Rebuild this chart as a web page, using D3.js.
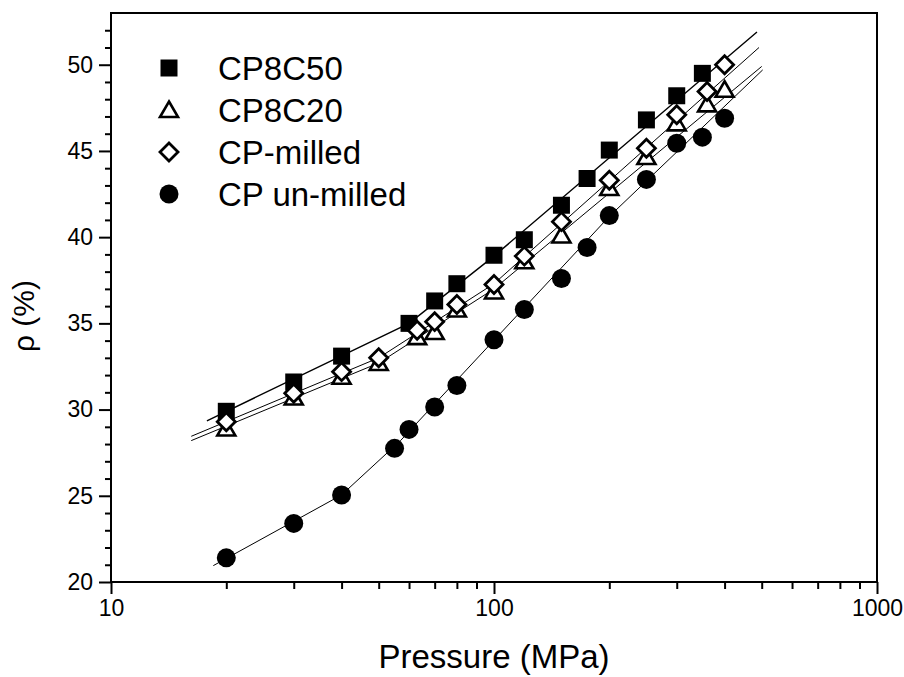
<!DOCTYPE html>
<html>
<head>
<meta charset="utf-8">
<script src="https://cdn.jsdelivr.net/npm/d3@7"></script>
<style>
body{margin:0;background:#fff;}
text{font-family:"Liberation Sans",Arial,sans-serif;fill:#000;}
</style>
</head>
<body>
<div id="container"></div>
<script>
// data (pressure in MPa, relative density in %)
var p50=[20,30,40,60,70,80,100,120,150,175,200,250,300,350];
var rho50=[29.9,31.6,33.1,35.0,36.3,37.3,38.95,39.85,41.85,43.4,45.05,46.8,48.2,49.5];

var p20=[20,30,40,50,63,70,80,100,120,150,200,250,300,360,400];
var rho20=[28.9,30.7,31.9,32.7,34.2,34.5,35.8,36.85,38.6,40.1,42.85,44.65,46.6,47.7,48.55];

var pMilled=[20,30,40,50,63,70,80,100,120,150,200,250,300,360,400];
var rhoMilled=[29.3,30.95,32.2,33.0,34.6,35.1,36.1,37.25,38.9,40.9,43.3,45.15,47.1,48.45,50.0];

var pUn=[20,30,40,55,60,70,80,100,120,150,175,200,250,300,350,400];
var rhoUn=[21.4,23.4,25.05,27.75,28.85,30.15,31.4,34.05,35.8,37.6,39.4,41.25,43.35,45.45,45.8,46.9];

// fitted lines (knots)
var fit50P=[17.8,60,100,486];
var fit50R=[29.35,35.0,38.9,51.9];
var fit20P=[16.2,50,100,500];
var fit20R=[28.2,32.7,37.0,49.9];
var fitMilledP=[16.2,50,100,492];
var fitMilledR=[28.45,33.0,37.3,51.0];
var fitUnP=[18.5,40,57,200,503];
var fitUnR=[20.95,25.05,28.2,41.2,49.7];

var seriesNames=['CP8C50','CP8C20','CP-milled','CP un-milled'];
var xMajor=[10,100,1000];
var yMajor=[20,25,30,35,40,45,50];

function drawChart(){
  var width=904, height=677;
  var mLeft=111, mRight=877, mTop=13, mBottom=582;

  var svg=d3.select('#container').append('svg')
    .attr('width',width).attr('height',height);

  var x=d3.scaleLog().domain([10,1000]).range([mLeft,mRight]);
  var y=d3.scaleLinear().domain([20,53]).range([mBottom,mTop]);

  // minor tick values
  var xMinor=[];
  [10,100].forEach(function(d){
    for(var k=2;k<=9;k++) xMinor.push(d*k);
  });
  var yMinor=d3.range(21,53,1).filter(function(v){return v%5!==0;});

  var xAxis=d3.axisBottom(x).tickValues(xMajor).tickFormat(d3.format('d')).tickSize(12).tickPadding(6);
  var xAxisMinor=d3.axisBottom(x).tickValues(xMinor).tickFormat('').tickSize(7);
  var yAxis=d3.axisLeft(y).tickValues(yMajor).tickFormat(d3.format('d')).tickSize(12).tickPadding(6);
  var yAxisMinor=d3.axisLeft(y).tickValues(yMinor).tickFormat('').tickSize(6);

  function styleAxis(g){
    g.attr('font-size',23).attr('font-family','"Liberation Sans",Arial,sans-serif');
    g.select('.domain').remove();
    g.selectAll('line').attr('stroke','#000').attr('stroke-width',2);
    g.selectAll('text').attr('fill','#000').style('font-size','23px');
  }

  svg.append('g').attr('transform','translate(0,'+mBottom+')').call(xAxisMinor).call(styleAxis);
  svg.append('g').attr('transform','translate(0,'+mBottom+')').call(xAxis).call(styleAxis);
  svg.append('g').attr('transform','translate('+mLeft+',0)').call(yAxisMinor).call(styleAxis);
  svg.append('g').attr('transform','translate('+mLeft+',0)').call(yAxis).call(styleAxis);

  // frame
  svg.append('rect')
    .attr('x',mLeft).attr('y',mTop)
    .attr('width',mRight-mLeft).attr('height',mBottom-mTop)
    .attr('fill','none').attr('stroke','#000').attr('stroke-width',2);

  // fit lines
  var line=d3.line().x(function(d){return x(d[0]);}).y(function(d){return y(d[1]);});
  var fits=[[fit50P,fit50R,1.4],[fit20P,fit20R,1],[fitMilledP,fitMilledR,1],[fitUnP,fitUnR,1]];
  fits.forEach(function(f){
    svg.append('path')
      .datum(d3.zip(f[0],f[1]))
      .attr('d',line)
      .attr('fill','none')
      .attr('stroke','#000')
      .attr('stroke-width',f[2]);
  });

  // marker shapes
  var shapes={
    square:{d:'M-8.5,-8.5H8.5V8.5H-8.5Z',fill:'#000',sw:0},
    triangle:{d:'M0,-8.5L9,7H-9Z',fill:'#fff',sw:2.6},
    diamond:{d:'M0,-9L9,0L0,9L-9,0Z',fill:'#fff',sw:2.8},
    circle:{d:'M9.5,0A9.5,9.5 0 1,1 -9.5,0A9.5,9.5 0 1,1 9.5,0Z',fill:'#000',sw:0}
  };

  function drawMarkers(ps,rs,shape){
    var s=shapes[shape];
    svg.append('g').selectAll('path')
      .data(d3.zip(ps,rs))
      .enter().append('path')
      .attr('d',s.d)
      .attr('transform',function(d){return 'translate('+x(d[0])+','+y(d[1])+')';})
      .attr('fill',s.fill)
      .attr('stroke','#000')
      .attr('stroke-width',s.sw);
  }
  drawMarkers(p50,rho50,'square');
  drawMarkers(p20,rho20,'triangle');
  drawMarkers(pMilled,rhoMilled,'diamond');
  drawMarkers(pUn,rhoUn,'circle');

  // legend
  var legendShapes=['square','triangle','diamond','circle'];
  var legend=svg.append('g');
  seriesNames.forEach(function(name,i){
    var cy=68+i*42;
    var s=shapes[legendShapes[i]];
    legend.append('path')
      .attr('d',s.d)
      .attr('transform','translate(169,'+cy+')')
      .attr('fill',s.fill).attr('stroke','#000').attr('stroke-width',s.sw);
    legend.append('text')
      .attr('x',218).attr('y',cy)
      .attr('dy','0.36em')
      .style('font-size','33px')
      .text(name);
  });

  // axis titles
  svg.append('text')
    .attr('x',(mLeft+mRight)/2).attr('y',668)
    .attr('text-anchor','middle')
    .style('font-size','33px')
    .text('Pressure (MPa)');

  svg.append('text')
    .attr('transform','translate(34,316) rotate(-90)')
    .attr('text-anchor','middle')
    .style('font-size','30px')
    .text('ρ (%)');
}
drawChart();
</script>
</body>
</html>
